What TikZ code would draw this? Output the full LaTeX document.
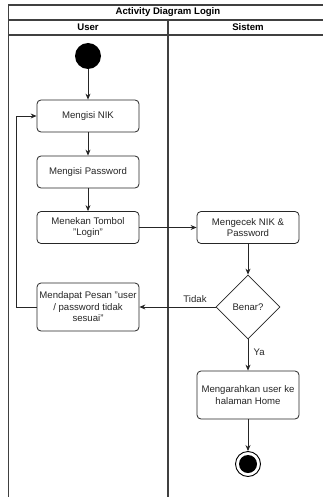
\documentclass[tikz,border=0pt]{standalone}
\usepackage{fontspec}
\setmainfont{Liberation Sans}
\usetikzlibrary{shapes.geometric,arrows.meta}
\begin{document}
\begin{tikzpicture}[x=1pt,y=-1pt,
  lane/.style={draw=black!75,line width=1.1pt},
  act/.style={draw=black!85,line width=0.8pt,rounded corners=4pt,align=center,inner sep=1pt,
    font=\fontsize{9.6}{11.5}\selectfont,text=black!85},
  flow/.style={draw=black!85,line width=0.8pt,-{Stealth[length=6pt,width=5pt]}},
  lbl/.style={font=\fontsize{9.6}{11.5}\selectfont,text=black!85},
  hdr/.style={font=\bfseries\fontsize{9.6}{11.5}\selectfont}]
\useasboundingbox (0,0) rectangle (323,497);
\clip (0,0) rectangle (323,497);
\fill[white] (0,0) rectangle (323,497);
% swimlane frame
\draw[lane] (8.5,520) -- (8.5,5) -- (340,5);
\draw[lane] (8.5,20) -- (340,20);
\draw[lane] (8.5,35) -- (340,35);
\draw[lane] (168,20) -- (168,520);
\node[hdr] (title) at (168,12.5) {Activity Diagram Login};
\node[hdr] (huser) at (88,27.5) {User};
\node[hdr] (hsis) at (248,27.5) {Sistem};
% activities
\node[circle,fill=black,minimum size=26pt,inner sep=0pt] (start) at (88,56) {};
\node[act,minimum width=102pt,minimum height=32pt] (nik) at (88,116) {Mengisi NIK};
\node[act,minimum width=102pt,minimum height=32pt] (pwd) at (88,172) {Mengisi Password};
\node[act,minimum width=102pt,minimum height=32pt] (login) at (88,227.5) {Menekan Tombol\\"Login"};
\node[act,minimum width=102pt,minimum height=48pt] (msg) at (88,307) {Mendapat Pesan "user\\/ password tidak\\sesuai"};
\node[act,minimum width=102pt,minimum height=32pt] (cek) at (248,227.5) {Mengecek NIK \&\\Password};
\node[diamond,draw=black!85,line width=0.8pt,minimum width=64pt,minimum height=64pt,inner sep=0pt,
  font=\fontsize{9.6}{11.5}\selectfont,text=black!85] (benar) at (248,307) {Benar?};
\node[act,minimum width=102pt,minimum height=48pt] (home) at (248,395) {Mengarahkan user ke\\halaman Home};
\node[circle,draw=black,line width=0.9pt,minimum size=25pt,inner sep=0pt] (end) at (248,464) {};
\node[circle,fill=black,minimum size=18pt,inner sep=0pt] (endin) at (end.center) {};
% flows
\draw[flow] (start) -- (nik);
\draw[flow] (nik) -- (pwd);
\draw[flow] (pwd) -- (login);
\draw[flow] (login) -- (cek);
\draw[flow] (cek) -- (benar);
\draw[flow] (benar) -- node[lbl,pos=0.27,anchor=south,yshift=1pt] {Tidak} (msg);
\draw[flow] (benar) -- node[lbl,pos=0.4,anchor=west,xshift=2pt] {Ya} (home);
\draw[flow] (home) -- (end);
\draw[flow] (msg.west) -- (16.5,307) -- (16.5,116) -- (nik.west);
\end{tikzpicture}
\end{document}
